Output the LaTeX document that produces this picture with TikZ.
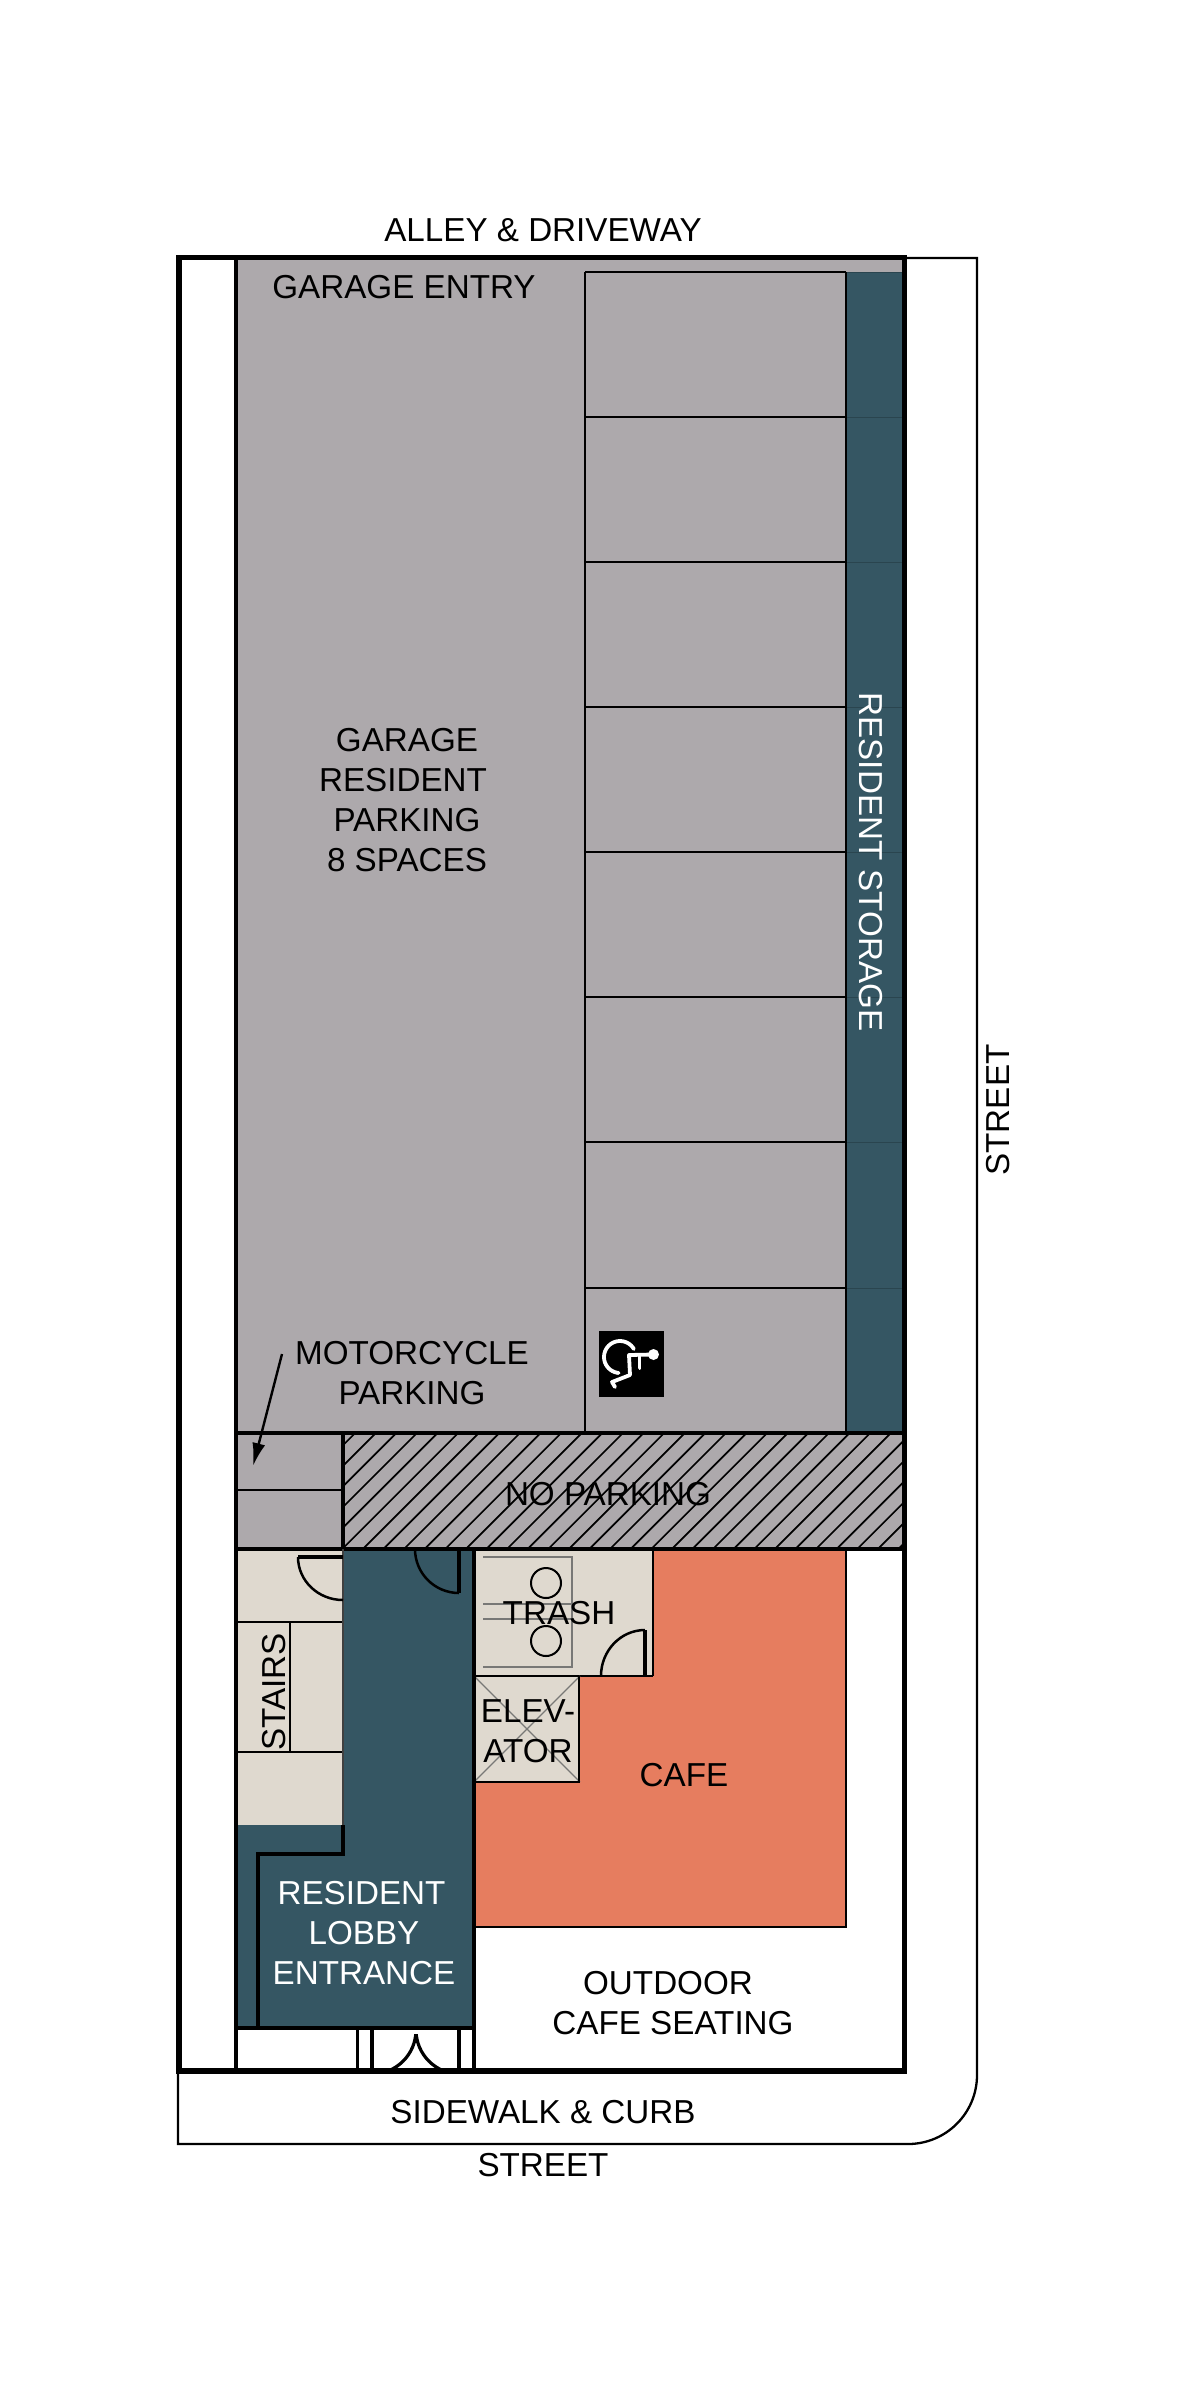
\documentclass[tikz,border=0pt]{standalone}
\usepackage{fontspec}
\setmainfont{Liberation Sans}
\usetikzlibrary{calc,arrows.meta}
\definecolor{garage}{RGB}{173,169,172}
\definecolor{lobby}{RGB}{53,86,99}
\definecolor{core}{RGB}{223,217,207}
\definecolor{cafe}{RGB}{230,125,95}
\definecolor{hair}{RGB}{120,120,118}
\tikzset{
  lbl/.style={inner sep=0pt,align=center,font=\fontsize{16.6}{20}\selectfont,text=black},
  lblw/.style={lbl,text=white},
  heavy/.style={draw=black,line width=2.75pt},
  wall/.style={draw=black,line width=1.7pt},
  thinwall/.style={draw=black,line width=1.15pt},
  hairline/.style={draw=hair,line width=0.6pt},
  doorleaf/.style={draw=black,line width=1.25pt},
  hatchline/.style={draw=black,line width=0.85pt},
  icon/.style={draw=white,line width=1.9pt,line cap=round,line join=round}
}
\newcommand{\doorarc}[3]{\draw[doorleaf] (#1) .. controls ($(#1)!.5523!(#2)$) and ($(#3)!.5523!(#2)$) .. (#3);}
\begin{document}
\begin{tikzpicture}[x=0.5pt,y=-0.5pt]
\useasboundingbox (0,0) rectangle (1200,2400);
\fill[white] (0,0) rectangle (1200,2400);
% sidewalk outline
\coordinate (sa) at (905,258);
\coordinate (sb) at (977,258);
\coordinate (sc) at (977,2075);
\coordinate (scc) at (977,2144);
\coordinate (sd) at (908,2144);
\coordinate (se) at (178,2144);
\coordinate (sf) at (178,2071);
\draw[thinwall] (sa) -- (sb) -- (sc) .. controls ($(sc)!.5523!(scc)$) and ($(sd)!.5523!(scc)$) .. (sd) -- (se) -- (sf);
% fills
\fill[garage] (236,258) rectangle (904,1549);
\fill[lobby] (846,272) rectangle (903,1433);
\fill[core] (236,1549) rectangle (343,1825);
\fill[lobby] (343,1549) rectangle (474,2028);
\fill[lobby] (236,1825) rectangle (343,2028);
\fill[cafe] (474,1549) rectangle (846,1927);
\fill[core] (474,1549) rectangle (653,1676);
\fill[core] (474,1676) rectangle (580,1782);
% parking
\foreach \yy in {272,417,562,707,852,997,1142,1288,1433}{
  \draw[draw=black,line width=1.1pt] (585,\yy) -- (846,\yy);
  \draw[draw=lobby!80!black,line width=0.5pt] (846,\yy) -- (903,\yy);
}
\draw[thinwall] (585,272) -- (585,1433);
\draw[thinwall] (846,272) -- (846,1433);
% wheelchair icon
\fill[black] (599,1331) rectangle (664,1397);
\draw[icon] plot[domain=30:265,samples=30,smooth] ({620+16*cos(\x)},{1357-16*sin(\x)});
\fill[white] (653.5,1354.5) circle[radius=5.5];
\draw[icon] (653,1354.5) -- (629,1355) -- (630,1375) -- (612,1382) -- (615,1387);
\draw[icon] (639.5,1355) -- (639.5,1368);
% hatched band
\begin{scope}
\clip (343,1433) rectangle (903,1549);
\foreach \k in {0,...,33}{
  \pgfmathsetmacro{\xa}{355.2+20.6*\k}
  \pgfmathsetmacro{\xb}{\xa-118}
  \draw[hatchline] (\xa,1433) -- (\xb,1551);
}
\end{scope}
\draw[wall] (236,1433) -- (903,1433);
\draw[wall] (236,1549) -- (904,1549);
\draw[wall] (343,1433) -- (343,1549);
\draw[thinwall] (236,1490) -- (343,1490);
% stairs
\draw[thinwall] (236,1622) -- (343,1622);
\draw[thinwall] (236,1752) -- (343,1752);
\draw[thinwall] (290,1622) -- (290,1752);
\draw[draw=black!75,line width=0.7pt] (343,1549) -- (343,1825);
\draw[wall] (298,1557) -- (343,1557);
\doorarc{298,1557}{298,1600}{343,1600}
% lobby
\draw[wall] (343,1825) -- (343,1854) -- (258,1854) -- (258,2028);
\draw[wall] (459,1549) -- (459,1593);
\doorarc{415,1549}{415,1593}{459,1593}
\draw[wall] (236,2028) -- (474,2028);
\draw[wall] (357.5,2028) -- (357.5,2071);
\draw[draw=black,line width=2pt] (372,2028) -- (372,2071);
\draw[draw=black,line width=2pt] (459,2028) -- (459,2071);
\begin{scope}
\clip (374,2034) rectangle (457,2071);
\draw[doorleaf,line width=1.6pt] (416,2030) .. controls (416,2054.3) and (396.3,2074) .. (372,2074);
\draw[doorleaf,line width=1.6pt] (416,2030) .. controls (416,2054.3) and (435.7,2074) .. (460,2074);
\end{scope}
% trash
\draw[hairline] (572,1604) -- (483,1604);
\draw[hairline] (572,1619) -- (483,1619);
\draw[hairline] (483,1557) -- (572,1557) -- (572,1667) -- (483,1667);
\draw[draw=black,line width=1pt] (546,1583) circle[radius=15];
\draw[draw=black,line width=1pt] (546,1641) circle[radius=15];
\draw[wall] (645,1630) -- (645,1676);
\doorarc{601,1676}{601,1630}{645,1630}
\draw[thinwall] (653,1549) -- (653,1676);
\draw[thinwall] (474,1676) -- (653,1676);
% elevator
\draw[hairline] (474,1676) -- (580,1782);
\draw[hairline] (474,1782) -- (580,1676);
\draw[thinwall] (579,1676) -- (579,1782) -- (474,1782);
% cafe
\draw[thinwall,line width=1.4pt] (846,1549) -- (846,1927) -- (474,1927);
% main walls
\draw[wall] (474,1549) -- (474,2071);
\draw[wall] (236,258) -- (236,2071);
\draw[heavy] (179,257.5) rectangle (904.5,2071);
% labels
\node[lbl] (alley) at (543,230) {ALLEY \& DRIVEWAY};
\node[lbl] (entry) at (404,287) {GARAGE ENTRY};
\node[lbl] (resparking) at (407,800.5) {GARAGE\\RESIDENT\kern4pt\\PARKING\\8 SPACES};
\node[lblw,rotate=-90] (storage) at (871,862) {RESIDENT STORAGE};
\node[lbl,rotate=90] (streete) at (998,1110) {STREET};
\node[lbl] (moto) at (412,1373) {MOTORCYCLE\\PARKING};
\node[lbl] (nopark) at (608,1494) {NO PARKING};
\node[lbl,rotate=90] (stairs) at (274,1692) {STAIRS};
\node[lbl] (trash) at (559,1613) {TRASH};
\node[lbl] (elev) at (528,1731) {ELEV-\\ATOR};
\node[lbl] (cafelbl) at (684,1775) {CAFE};
\node[lblw] (entrance) at (364,1933) {RESIDENT\kern2.5pt\\LOBBY\\ENTRANCE};
\node[lbl] (outdoor) at (673,2003) {\kern-5pt OUTDOOR\\CAFE SEATING};
\node[lbl] (sidewalk) at (543,2112) {SIDEWALK \& CURB};
\node[lbl] (streets) at (543,2165) {STREET};
% motorcycle arrow
\coordinate (atail) at (282,1354);
\coordinate (ahead) at (253,1466);
\draw[draw=black,line width=1.2pt,-{Latex[length=11.5pt,width=6.5pt]}] (atail) -- (ahead);
\end{tikzpicture}
\end{document}
